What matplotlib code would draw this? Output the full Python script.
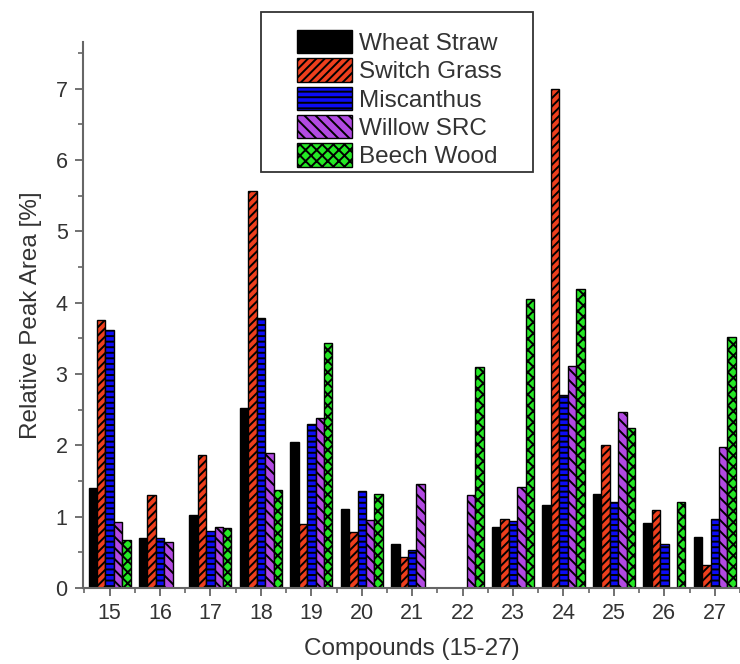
import matplotlib
matplotlib.use("Agg")
import matplotlib.pyplot as plt
from matplotlib.patches import Rectangle
import numpy as np

# compounds 15-27, relative peak areas
compounds = [15, 16, 17, 18, 19, 20, 21, 22, 23, 24, 25, 26, 27]
wheat_straw = [1.40, 0.70, 1.02, 2.52, 2.05, 1.11, 0.62, 0.0, 0.86, 1.16, 1.32, 0.91, 0.71]
switch_grass = [3.76, 1.30, 1.86, 5.56, 0.90, 0.78, 0.43, 0.0, 0.97, 7.00, 2.00, 1.09, 0.32]
miscanthus = [3.62, 0.70, 0.80, 3.78, 2.30, 1.36, 0.53, 0.0, 0.94, 2.71, 1.20, 0.61, 0.96]
willow_src = [0.93, 0.64, 0.85, 1.89, 2.38, 0.95, 1.46, 1.30, 1.41, 3.11, 2.46, 0.0, 1.98]
beech_wood = [0.67, 0.0, 0.84, 1.37, 3.43, 1.32, 0.0, 3.10, 4.05, 4.19, 2.24, 1.20, 3.52]

series = [
    ("Wheat Straw", wheat_straw, "#000000", None),
    ("Switch Grass", switch_grass, "#ee3f1d", "////"),
    ("Miscanthus", miscanthus, "#0c0cf5", "---"),
    ("Willow SRC", willow_src, "#b24ae2", "\\\\\\"),
    ("Beech Wood", beech_wood, "#25e825", "xxx"),
]

plt.rcParams['font.family'] = ['Liberation Sans', 'DejaVu Sans']
plt.rcParams['hatch.linewidth'] = 1.4
plt.rcParams['hatch.color'] = 'black'

fig = plt.figure(figsize=(7.4, 6.64), dpi=100)
ax = fig.add_axes([0.112, 0.1145, 0.888, 0.822])

x = np.array(compounds, dtype=float)
w = 1 / 6
handles = []
for i, (name, vals, color, hatch) in enumerate(series):
    vals = np.array(vals, dtype=float)
    vals[vals == 0] = np.nan  # missing compounds are not drawn
    b = ax.bar(x + (i - 2) * w, vals, width=w, color=color, edgecolor='black',
               linewidth=1.0, hatch=hatch, label=name)
    handles.append(b)

ax.set_xlim(14.47, 27.40)
ax.set_ylim(0, 7.65)
ax.set_xticks(compounds)
ax.set_xticks(np.arange(14.5, 27.6, 1), minor=True)
ax.set_yticks(range(0, 8))
ax.set_yticks(np.arange(0.5, 7.6, 1), minor=True)

for s in ['top', 'right']:
    ax.spines[s].set_visible(False)
for s in ['left', 'bottom']:
    ax.spines[s].set_color('#666666')
    ax.spines[s].set_linewidth(1.5)

ax.tick_params(axis='both', which='major', direction='out', length=6, width=1.3,
               color='#666666', labelsize=15.5, labelcolor='#333333')
ax.tick_params(axis='x', which='major', pad=5)
ax.tick_params(axis='y', which='major', pad=5)
ax.tick_params(axis='both', which='minor', direction='out', length=3.5, width=1.2,
               color='#666666')

ax.set_xlabel('Compounds (15-27)', fontsize=17.5, color='#333333', labelpad=10)
ax.set_ylabel('Relative Peak Area [%]', fontsize=17.5, color='#333333', labelpad=10)

# legend box sits partly above the plot area, with extra room on the right
fig.patches.append(Rectangle((261 / 740, 1 - 172 / 664), 272 / 740, 160 / 664,
                             transform=fig.transFigure, facecolor='white',
                             edgecolor='#333333', linewidth=1.3, zorder=3))
leg = fig.legend(handles=handles, loc='upper left',
                 bbox_to_anchor=(280 / 740, 1 - 13 / 664),
                 fontsize=17.5, frameon=False,
                 handlelength=2.25, handleheight=1.1,
                 labelspacing=0.14, handletextpad=0.3, borderpad=0.2)
leg.set_zorder(4)
for t in leg.get_texts():
    t.set_color('#333333')

fig.savefig('out.png', dpi=100)
